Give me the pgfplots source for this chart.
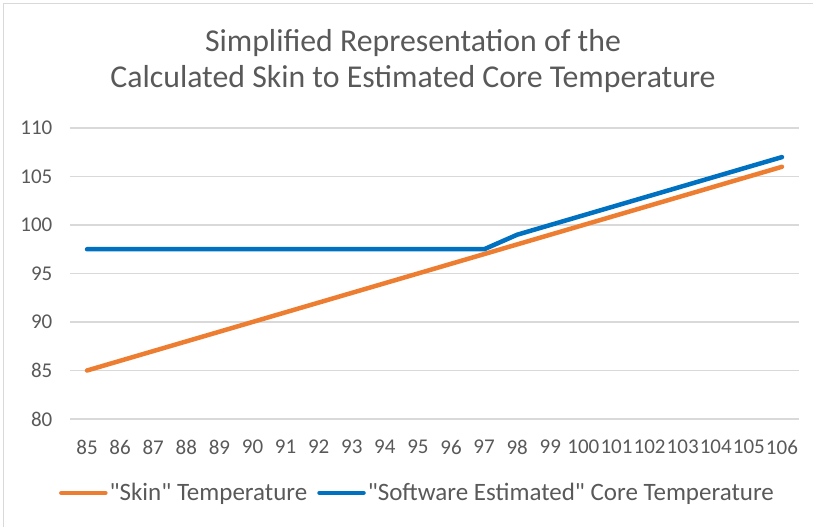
\documentclass[border=0pt]{standalone}
\usepackage{fontspec}
\setmainfont{Carlito}[Ligatures=TeXOff]
\usepackage{pgfplots}
\pgfplotsset{compat=1.18}
\definecolor{skin}{HTML}{ED7D31}
\definecolor{core}{HTML}{0070C0}
\definecolor{txt}{HTML}{595959}
\definecolor{gridc}{HTML}{D9D9D9}
\begin{document}
\begin{tikzpicture}[x=1pt,y=1pt]
\useasboundingbox (0pt,0pt) rectangle (813pt,527pt);
\draw[gridc, line width=1.2pt] (3.5pt,0pt) -- (3.5pt,523.5pt) -- (813pt,523.5pt);
\node[anchor=base, text=txt, font=\fontsize{31.8}{36}\selectfont, inner sep=0pt] at (413pt,475pt) {Simplified Representation of the};
\node[anchor=base, text=txt, font=\fontsize{31.8}{36}\selectfont, inner sep=0pt] at (413pt,439pt) {Calculated Skin to Estimated Core Temperature};
\begin{axis}[
  at={(70.5pt,108pt)}, anchor=south west,
  scale only axis, width=728pt, height=291pt,
  xmin=-0.5, xmax=21.5, ymin=80, ymax=110,
  ytick={80,85,...,110},
  xtick={0,...,21},
  xticklabels={85,86,87,88,89,90,91,92,93,94,95,96,97,98,99,100,101,102,103,104,105,106},
  ymajorgrids, grid style={gridc, line width=1.2pt},
  axis x line*=bottom, axis y line*=left,
  axis line style={draw=none},
  major tick length=0pt,
  /pgf/number format/assume math mode=true,
  tick label style={font=\fontsize{21}{21}\selectfont, text=txt},
  yticklabel style={anchor=east, inner sep=0pt, xshift=-18pt},
  xticklabel style={anchor=north, inner sep=0pt, yshift=-21pt},
  legend columns=2,
  legend style={at={(axis description cs:0.4766,-0.254)}, anchor=center, draw=none, fill=none,
    font=\fontsize{25}{25}\selectfont, text=txt,
    nodes={inner sep=2pt},
    /tikz/every even column/.style={column sep=8pt}},
  legend image code/.code={\draw[#1, line width=4.5pt, line cap=round] (0pt,0pt) -- (44pt,0pt);},
]
\addplot[skin, line width=4.5pt, line join=round, line cap=round] coordinates {
(0,85) (1,86) (2,87) (3,88) (4,89) (5,90) (6,91) (7,92) (8,93) (9,94) (10,95)
(11,96) (12,97) (13,98) (14,99) (15,100) (16,101) (17,102) (18,103) (19,104) (20,105) (21,106)};
\addlegendentry{"Skin" Temperature}
\addplot[core, line width=4.5pt, line join=round, line cap=round] coordinates {
(0,97.5) (1,97.5) (2,97.5) (3,97.5) (4,97.5) (5,97.5) (6,97.5) (7,97.5) (8,97.5) (9,97.5) (10,97.5)
(11,97.5) (12,97.5) (13,99) (14,100) (15,101) (16,102) (17,103) (18,104) (19,105) (20,106) (21,107)};
\addlegendentry{"Software Estimated" Core Temperature}
\end{axis}
\end{tikzpicture}
\end{document}
